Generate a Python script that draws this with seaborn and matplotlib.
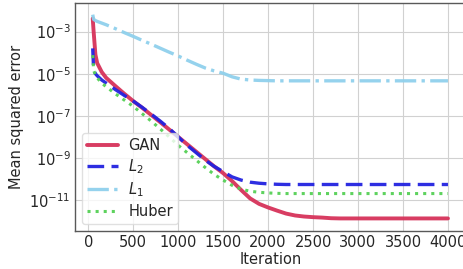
import numpy as np
import pandas as pd
import matplotlib
matplotlib.use("Agg")
import matplotlib.pyplot as plt
import seaborn as sns

# Iterations at which the curves are sampled
iterations = [50, 60, 80, 100, 150, 200] + list(range(300, 4001, 100))

# log10 of the mean squared error
gan_log = [-2.38, -3.0, -4.1, -4.5, -4.92, -5.2, -5.58, -5.95, -6.3, -6.62,
           -6.96, -7.3, -7.65, -8.0, -8.35, -8.7, -9.05, -9.4, -9.72, -10.1,
           -10.52, -10.92, -11.18, -11.35, -11.5, -11.64, -11.73, -11.78, -11.81, -11.83,
           -11.86, -11.87, -11.87, -11.87, -11.87, -11.87, -11.87, -11.87, -11.87, -11.87,
           -11.87, -11.87, -11.87, -11.87]
l2_log = [-3.8, -4.8, -5.0, -5.1, -5.3, -5.45, -5.75, -6.03, -6.3, -6.6,
          -6.92, -7.25, -7.6, -8.0, -8.4, -8.75, -9.1, -9.4, -9.65, -9.9,
          -10.05, -10.15, -10.2, -10.23, -10.25, -10.26, -10.26, -10.26, -10.26, -10.26,
          -10.26, -10.26, -10.26, -10.26, -10.26, -10.26, -10.26, -10.26, -10.26, -10.26,
          -10.26, -10.26, -10.26, -10.26]
l1_log = [-2.2, -2.42, -2.48, -2.52, -2.6, -2.68, -2.86, -3.05, -3.23, -3.42,
          -3.6, -3.79, -3.98, -4.16, -4.36, -4.55, -4.73, -4.87, -4.98, -5.15,
          -5.26, -5.3, -5.32, -5.33, -5.34, -5.34, -5.34, -5.34, -5.34, -5.34,
          -5.34, -5.34, -5.34, -5.34, -5.34, -5.34, -5.34, -5.34, -5.34, -5.34,
          -5.34, -5.34, -5.34, -5.34]
huber_log = [-4.12, -4.85, -5.05, -5.2, -5.45, -5.62, -5.95, -6.25, -6.55, -6.9,
             -7.25, -7.62, -8.0, -8.4, -8.75, -9.1, -9.45, -9.78, -10.05, -10.3,
             -10.48, -10.58, -10.63, -10.66, -10.68, -10.69, -10.69, -10.69, -10.69, -10.69,
             -10.69, -10.69, -10.69, -10.69, -10.69, -10.69, -10.69, -10.69, -10.69, -10.69,
             -10.69, -10.69, -10.69, -10.69]

labels = ["GAN", "$L_2$", "$L_1$", "Huber"]
series = [gan_log, l2_log, l1_log, huber_log]
colors = ["#d6325a", "#2222e0", "#8fd0ec", "#55d055"]
styles = ["-", (0, (5.0, 2.2)), "-.", ":"]
widths = [2.8, 2.4, 2.4, 2.2]

x_ticks = [0, 500, 1000, 1500, 2000, 2500, 3000, 3500, 4000]
y_ticks = [1e-11, 1e-9, 1e-7, 1e-5, 1e-3]

frames = []
for lab, vals in zip(labels, series):
    frames.append(pd.DataFrame({"Iteration": iterations,
                                "mse": 10.0 ** np.array(vals),
                                "method": lab}))
df = pd.concat(frames, ignore_index=True)

sns.set_style("whitegrid", {"axes.edgecolor": "0.35", "grid.color": "0.82"})
plt.rcParams['font.family'] = ['DejaVu Sans']

fig = plt.figure(figsize=(4.63, 2.69), dpi=100)
ax = fig.add_axes([0.162, 0.141, 0.844, 0.846])

for lab, col, ls, lw in zip(labels, colors, styles, widths):
    sub = df[df["method"] == lab]
    sns.lineplot(data=sub, x="Iteration", y="mse", ax=ax, color=col,
                 linestyle=ls, linewidth=lw, label=lab, alpha=0.95)

ax.set_yscale("log")
ax.set_xlim(-147, 4198)
ax.set_ylim(10 ** -12.47, 10 ** -1.67)
ax.set_xticks(x_ticks)
ax.set_yticks(y_ticks)
ax.yaxis.set_minor_locator(matplotlib.ticker.NullLocator())
ax.tick_params(labelsize=10.5, length=0, pad=3)
ax.set_xlabel("Iteration", fontsize=10.5, labelpad=1)
ax.set_ylabel("Mean squared error", fontsize=10.5)
for sp in ax.spines.values():
    sp.set_linewidth(1.0)

leg = ax.legend(loc="lower left", fontsize=10.5, frameon=True,
                handlelength=2.1, handletextpad=0.7, borderpad=0.35,
                labelspacing=0.3)
leg.get_frame().set_edgecolor("0.85")

fig.savefig("out.png", dpi=100)
